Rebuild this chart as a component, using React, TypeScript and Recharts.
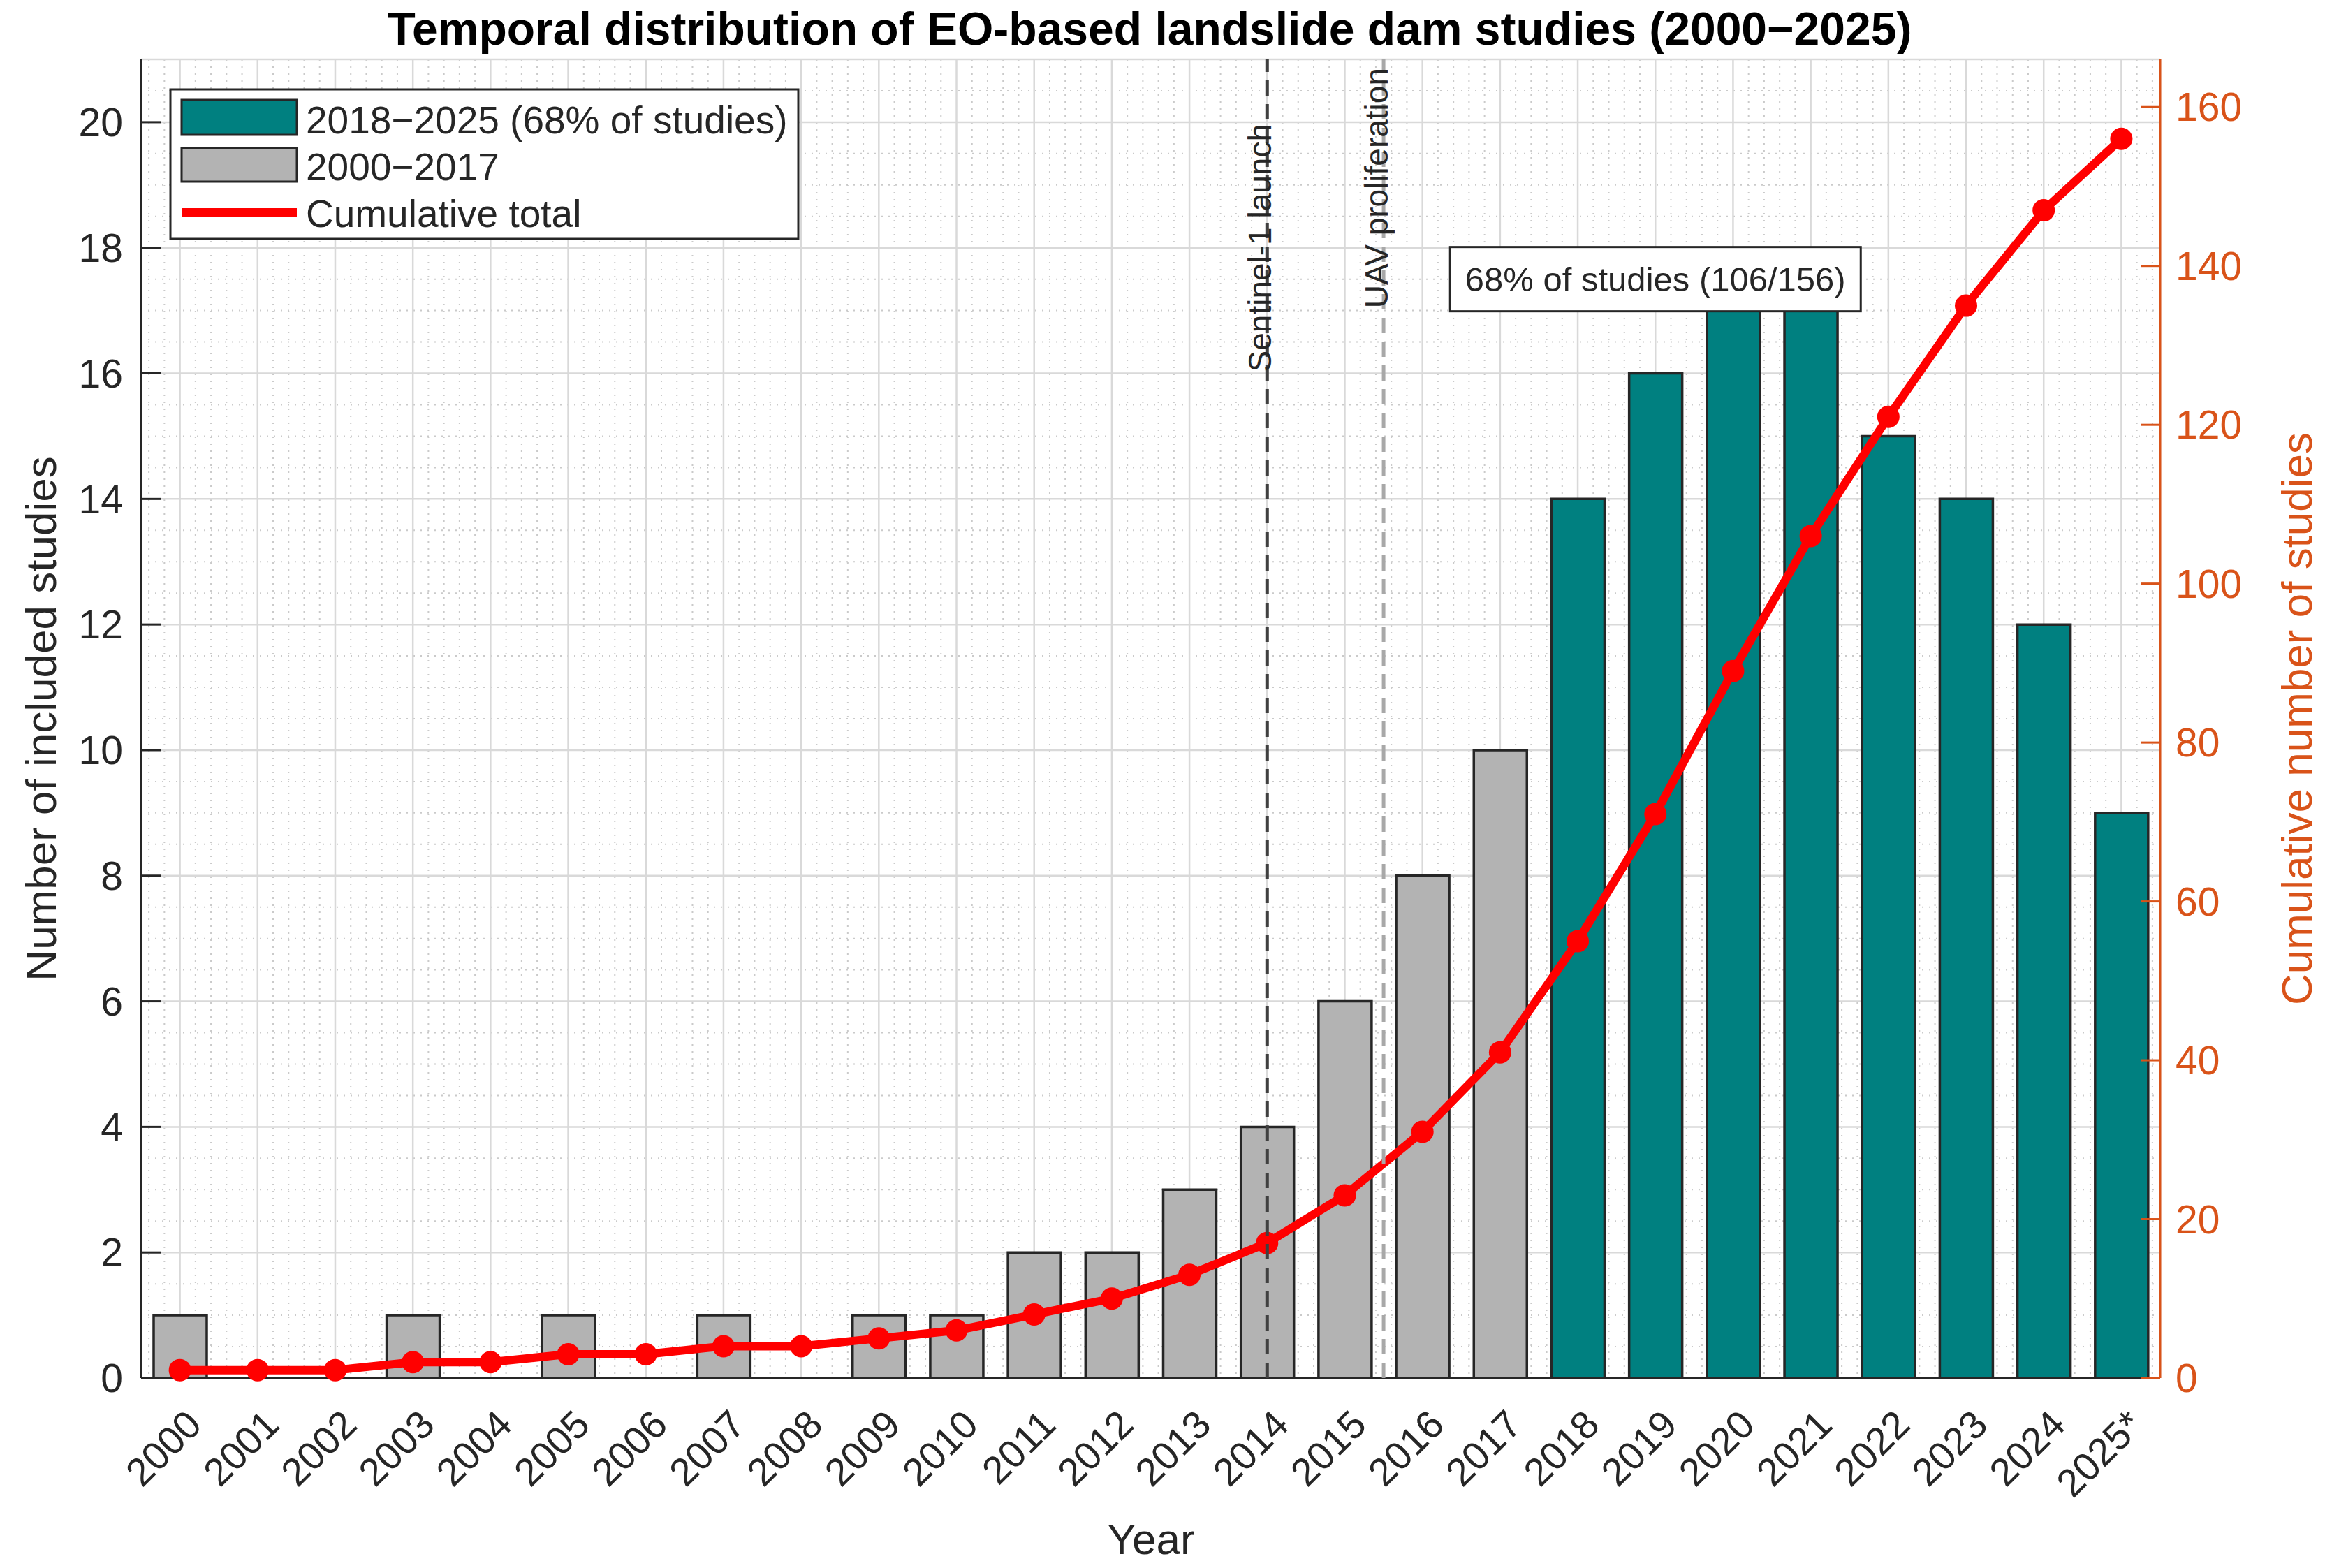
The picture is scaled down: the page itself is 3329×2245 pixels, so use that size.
import React from 'react'
import {
  ComposedChart,
  Bar,
  Line,
  XAxis,
  YAxis,
  CartesianGrid,
  ReferenceLine,
  ReferenceDot,
  Cell,
} from 'recharts'

// publication years; the last one is a partial year
const YEARS = [
  '2000', '2001', '2002', '2003', '2004', '2005', '2006', '2007', '2008',
  '2009', '2010', '2011', '2012', '2013', '2014', '2015', '2016', '2017',
  '2018', '2019', '2020', '2021', '2022', '2023', '2024', '2025*',
]
const STUDIES = [1, 0, 0, 1, 0, 1, 0, 1, 0, 1, 1, 2, 2, 3, 4, 6, 8, 10, 14, 16, 18, 17, 15, 14, 12, 9]
const CUMULATIVE = [1, 1, 1, 2, 2, 3, 3, 4, 4, 5, 6, 8, 10, 13, 17, 23, 31, 41, 55, 71, 89, 106, 121, 135, 147, 156]
const RECENT_START = 18 // index of 2018

const COUNT_TICKS = [0, 2, 4, 6, 8, 10, 12, 14, 16, 18, 20]
const CUM_TICKS = [0, 20, 40, 60, 80, 100, 120, 140, 160]
const COUNT_MAX = 21
const CUM_MAX = 166

const SENTINEL_IDX = 14
const UAV_IDX = 15.5
const NOTE_YEAR = '2019'
const NOTE_LEVEL = 17.5

const TEAL = '#008080'
const GREY = '#b3b3b3'
const RED = '#ff0000'
const ORANGE = '#d95319'
const INK = '#262626'
const FONT = '"Liberation Sans", Arial, Helvetica, sans-serif'

const W = 3329
const H = 2245
const MARGIN = { top: 85, right: 116, bottom: 112, left: 82 }

const rows = YEARS.map((year, i) => ({
  year,
  idx: i,
  studies: STUDIES[i],
  cumulative: CUMULATIVE[i],
}))

const YearTick = ({ x, y, payload }: any) => (
  <text
    transform={`translate(${x + 34},${y + 70}) rotate(-45)`}
    textAnchor="end"
    fontSize={56}
    fontFamily={FONT}
    fill={INK}
  >
    {payload.value}
  </text>
)

// inward tick marks along the top edge of the box
const TopTick = ({ x, y }: any) => (
  <line x1={x} x2={x} y1={y} y2={y + 27} stroke="#4d4d4d" strokeWidth={3} />
)

// dotted minor grid: every 0.5 on the count axis, every 0.2 of a year on x
const minorRows = ({ offset }: any) => {
  const out: number[] = []
  for (let v = 0.5; v < COUNT_MAX; v += 0.5) {
    if (v % 2 === 0) continue
    out.push(offset.top + offset.height * (1 - v / COUNT_MAX))
  }
  return out
}
const minorCols = ({ offset }: any) => {
  const band = offset.width / YEARS.length
  const out: number[] = []
  for (let k = -2; k <= YEARS.length * 5 - 3; k++) {
    if (k % 5 === 0) continue
    out.push(offset.left + (k / 5 + 0.5) * band)
  }
  return out
}

const EventLabel = (text: string, shift: number) => ({ viewBox }: any) => (
  <text
    transform={`translate(${viewBox.x + 6},${viewBox.y + shift}) rotate(-90)`}
    textAnchor="end"
    fontSize={46}
    fontFamily={FONT}
    fill={INK}
  >
    {text}
  </text>
)

const NoteBox = ({ cx, cy }: any) => (
  <g>
    <rect x={cx - 294} y={cy - 46} width={588} height={92} fill="#fff" stroke={INK} strokeWidth={3} />
    <text x={cx} y={cy + 17} textAnchor="middle" fontSize={49} fontFamily={FONT} fill={INK}>
      68% of studies (106/156)
    </text>
  </g>
)

const LegendBox = () => (
  <g fontFamily={FONT} fontSize={55} fill={INK}>
    <rect x={244} y={128} width={899} height={214} fill="#fff" stroke={INK} strokeWidth={3} />
    <rect x={260} y={143} width={165} height={50} fill={TEAL} stroke={INK} strokeWidth={3} />
    <text x={438} y={191}>2018−2025 (68% of studies)</text>
    <rect x={260} y={212} width={165} height={48} fill={GREY} stroke={INK} strokeWidth={3} />
    <text x={438} y={258}>2000−2017</text>
    <line x1={260} x2={425} y1={304} y2={304} stroke={RED} strokeWidth={12} />
    <text x={438} y={325}>Cumulative total</text>
  </g>
)

export default function App() {
  return (
    <div style={{ position: 'absolute', left: 0, top: 0, width: W, height: H, background: '#fff' }}>
      <ComposedChart width={W} height={H} data={rows} margin={MARGIN}>
        <CartesianGrid
          yAxisId="left"
          stroke="#cacaca"
          strokeWidth={2}
          strokeDasharray="2 8"
          horizontalCoordinatesGenerator={minorRows}
          verticalCoordinatesGenerator={minorCols}
        />
        <CartesianGrid yAxisId="left" stroke="#d9d9d9" strokeWidth={2.5} />

        <XAxis
          dataKey="year"
          interval={0}
          height={160}
          tickSize={0}
          tickMargin={0}
          tickLine={false}
          axisLine={{ stroke: INK, strokeWidth: 3 }}
          tick={<YearTick />}
        />
        <XAxis
          xAxisId="top"
          orientation="top"
          dataKey="year"
          interval={0}
          height={0}
          tickSize={0}
          tickMargin={0}
          tickLine={false}
          tick={<TopTick />}
          axisLine={{ stroke: INK, strokeWidth: 3 }}
        />
        <XAxis xAxisId="num" type="number" dataKey="idx" domain={[-0.5, YEARS.length - 0.5]} hide />

        <YAxis
          yAxisId="left"
          width={120}
          domain={[0, COUNT_MAX]}
          ticks={COUNT_TICKS}
          tickSize={-28}
          tickMargin={54}
          tickLine={{ stroke: INK, strokeWidth: 3 }}
          axisLine={{ stroke: INK, strokeWidth: 3 }}
          tick={{ fontSize: 57, fill: INK, fontFamily: FONT }}
        />
        <YAxis
          yAxisId="right"
          orientation="right"
          width={120}
          domain={[0, CUM_MAX]}
          ticks={CUM_TICKS}
          tickSize={-28}
          tickMargin={50}
          tickLine={{ stroke: ORANGE, strokeWidth: 3 }}
          axisLine={{ stroke: ORANGE, strokeWidth: 3 }}
          tick={{ fontSize: 57, fill: ORANGE, fontFamily: FONT }}
        />

        <Bar yAxisId="left" dataKey="studies" barSize={76} stroke={INK} strokeWidth={3.5} isAnimationActive={false}>
          {rows.map((r) => (
            <Cell key={r.year} fill={r.idx >= RECENT_START ? TEAL : GREY} />
          ))}
        </Bar>
        <Line
          yAxisId="right"
          type="linear"
          dataKey="cumulative"
          stroke={RED}
          strokeWidth={12}
          dot={{ r: 16, fill: RED, stroke: RED, strokeWidth: 0 }}
          activeDot={false}
          isAnimationActive={false}
        />

        <ReferenceLine
          xAxisId="num"
          yAxisId="left"
          x={SENTINEL_IDX}
          stroke="#404040"
          strokeWidth={5}
          strokeDasharray="22 12"
          zIndex={600}
          label={EventLabel('Sentinel-1 launch', 92)}
        />
        <ReferenceLine
          xAxisId="num"
          yAxisId="left"
          x={UAV_IDX}
          stroke="#a8a8a8"
          strokeWidth={5}
          strokeDasharray="22 12"
          zIndex={600}
          label={EventLabel('UAV proliferation', 12)}
        />
        <ReferenceDot
          yAxisId="left"
          x={NOTE_YEAR}
          y={NOTE_LEVEL}
          r={0}
          zIndex={700}
          shape={<NoteBox />}
        />

        <g fontFamily={FONT} fill={INK}>
          <text x={1646} y={64} textAnchor="middle" fontSize={66} fontWeight="bold" fill="#000">
            Temporal distribution of EO-based landslide dam studies (2000−2025)
          </text>
          <text transform="translate(80,1029) rotate(-90)" textAnchor="middle" fontSize={62}>
            Number of included studies
          </text>
          <text transform="translate(3310,1029) rotate(-90)" textAnchor="middle" fontSize={62} fill={ORANGE}>
            Cumulative number of studies
          </text>
          <text x={1648} y={2225} textAnchor="middle" fontSize={62}>
            Year
          </text>
        </g>
        <LegendBox />
      </ComposedChart>
    </div>
  )
}
